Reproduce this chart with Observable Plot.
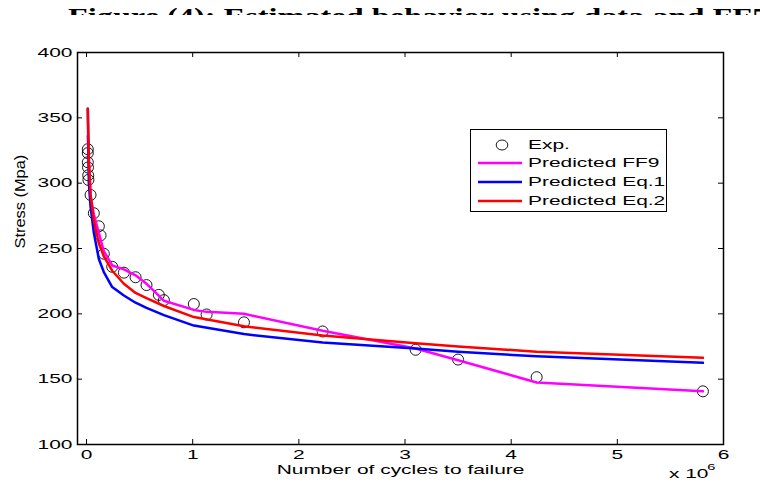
<!DOCTYPE html>
<html>
<head>
<meta charset="utf-8">
<script src="https://cdn.jsdelivr.net/npm/d3@7"></script>
<script src="https://cdn.jsdelivr.net/npm/@observablehq/plot@0.6"></script>
<style>
  html, body { margin: 0; padding: 0; background: white; }
  #wrap { position: relative; width: 760px; height: 493px; overflow: hidden; }
  #chart { position: absolute; left: 0; top: 0; }
  #title { position: absolute; left: 68px; top: 8px; height: 7px; width: 692px; overflow: hidden; }
  #title span { display: inline-block; white-space: nowrap; font-family: "Liberation Serif", "Times New Roman", serif; font-weight: bold; font-size: 24px; line-height: 24px; margin-top: -4px; transform-origin: left top; }
  #legend { position: absolute; left: 470px; top: 129px; width: 197px; height: 83px; border: 1px solid black; background: white; box-sizing: border-box; font-family: "Liberation Sans", Arial, sans-serif; font-size: 13.5px; }
  .row { position: absolute; left: 0; height: 18px; width: 100%; }
  .row svg { position: absolute; left: 6px; top: 0; }
  .row .lab { position: absolute; left: 57px; top: 0; line-height: 18px; white-space: nowrap; transform: scaleX(1.55); transform-origin: left center; }
</style>
</head>
<body>
<div id="wrap">
  <div id="chart"></div>
  <div id="title"><span id="titleText"></span></div>
  <div id="legend"></div>
</div>
<script>
// ---- data (x in units of 10^6 cycles, stress in MPa) ----
const titleText = "Figure (4): Estimated behavior using data and FF5";
const xLabel = "Number of cycles to failure";
const yLabel = "Stress (Mpa)";
const xExponent = "6";
const xTicks = [0, 1, 2, 3, 4, 5, 6];
const yTicks = [100, 150, 200, 250, 300, 350, 400];
const seriesNames = ["Exp.", "Predicted FF9", "Predicted Eq.1", "Predicted Eq.2"];
const seriesColors = ["black", "#ff00ff", "#0000ff", "#ff0000"];

const expN = [0.012, 0.012, 0.012, 0.014, 0.016, 0.018, 0.038, 0.069, 0.116, 0.132, 0.163, 0.242, 0.352, 0.462, 0.565, 0.681, 0.729, 1.011, 1.131, 1.483, 2.224, 3.10, 3.50, 4.24, 5.806];
const expS = [326, 323, 316, 312, 306, 302.5, 291, 277, 267, 260, 246, 236, 231.5, 228, 222, 214.5, 210.5, 207.5, 199.5, 193.5, 186.5, 172.5, 165, 151.5, 140.7];

const ff9N = [0.012, 0.038, 0.069, 0.116, 0.132, 0.163, 0.242, 0.352, 0.462, 0.565, 0.681, 0.729, 1.011, 1.131, 1.483, 2.224, 3.10, 3.50, 4.24, 5.806];
const ff9S = [336, 290, 276, 262, 257, 248, 237, 234, 229.5, 223, 214, 210, 203, 201.5, 200, 187, 173.5, 164.5, 147.5, 140.7];

const eq1N = [0.012, 0.022, 0.038, 0.069, 0.116, 0.163, 0.242, 0.352, 0.462, 0.565, 0.729, 1.011, 1.483, 2.224, 3.10, 3.50, 4.24, 5.806];
const eq1S = [357, 300, 282, 262, 242, 232, 220.5, 214, 208.5, 204.5, 199, 191, 184.5, 178, 173.5, 171, 167.5, 162.5];

const eq2N = [0.012, 0.022, 0.038, 0.069, 0.116, 0.163, 0.242, 0.352, 0.462, 0.565, 0.729, 1.011, 1.483, 2.224, 3.10, 3.50, 4.24, 5.806];
const eq2S = [357, 316, 291, 271, 254, 244, 233, 223, 216, 212, 206, 197.5, 190.5, 183.5, 177.5, 175, 171, 166.3];

// ---- build ----
const toRows = (N, S) => N.map((n, i) => ({n, s: S[i]}));
const exp = toRows(expN, expS);
const ff9 = toRows(ff9N, ff9S);
const eq1 = toRows(eq1N, eq1S);
const eq2 = toRows(eq2N, eq2S);

const W = 760, H = 493, mL = 77, mR = 37, mT = 52, mB = 49;
const pW = W - mL - mR, pH = H - mT - mB;
const SX = 1.55;

const svg = Plot.plot({
  width: W, height: H,
  marginLeft: mL, marginRight: mR, marginTop: mT, marginBottom: mB,
  style: {fontFamily: "'Liberation Sans', Arial, sans-serif", fontSize: "13.5px", color: "black", background: "white"},
  x: {domain: [-0.085, 6]},
  y: {domain: [100, 400]},
  marks: [
    Plot.ruleX(xTicks, {x: d => d, insetTop: pH - 5, stroke: "black"}),
    Plot.ruleX(xTicks, {x: d => d, insetBottom: pH - 5, stroke: "black"}),
    Plot.ruleY(yTicks, {y: d => d, insetRight: pW - 5, stroke: "black"}),
    Plot.ruleY(yTicks, {y: d => d, insetLeft: pW - 5, stroke: "black"}),
    Plot.axisX({ticks: xTicks, tickFormat: d => String(d), tickSize: 0, tickPadding: 5, label: null, fontSize: 13.5}),
    Plot.axisY({ticks: yTicks, tickFormat: d => String(d), tickSize: 0, tickPadding: 5, label: null, fontSize: 13.5}),
    Plot.dot(exp, {x: "n", y: "s", r: 5.5, stroke: seriesColors[0], strokeWidth: 0.9, fill: "none"}),
    Plot.line(ff9, {x: "n", y: "s", stroke: seriesColors[1], strokeWidth: 2.5}),
    Plot.line(eq1, {x: "n", y: "s", stroke: seriesColors[2], strokeWidth: 2.5}),
    Plot.line(eq2, {x: "n", y: "s", stroke: seriesColors[3], strokeWidth: 2.5}),
    Plot.frame({stroke: "black", strokeWidth: 1.5}),
    Plot.text([xLabel], {text: d => d, frameAnchor: "bottom", dy: 29, fontSize: 13.5}),
    Plot.text(["x 10"], {text: d => d, frameAnchor: "bottom-right", dx: -15, dy: 33, textAnchor: "end", fontSize: 13.5}),
    Plot.text([xExponent], {text: d => d, frameAnchor: "bottom-right", dx: -8, dy: 25, fontSize: 9.5}),
    Plot.text([yLabel], {text: d => d, frameAnchor: "left", dx: -57, rotate: -90, fontSize: 14})
  ]
});
document.getElementById("chart").append(svg);

// horizontally stretched lettering as in the reference
svg.querySelectorAll("text").forEach(t => {
  const w = t.getComputedTextLength();
  if (!(w > 0)) return;
  const f = t.textContent === yLabel ? 1.17 : SX;
  t.setAttribute("textLength", (w * f).toFixed(2));
  t.setAttribute("lengthAdjust", "spacingAndGlyphs");
});

// title (clipped at the top edge, as in the reference)
const tt = document.getElementById("titleText");
tt.textContent = titleText;
const tw = tt.getBoundingClientRect().width;
tt.style.transform = "scaleX(" + (700 / tw).toFixed(3) + ")";

// legend
const legend = document.getElementById("legend");
const rowTops = [6, 24, 43, 62];
seriesNames.forEach((name, i) => {
  const row = document.createElement("div");
  row.className = "row";
  row.style.top = rowTops[i] + "px";
  const ns = "http://www.w3.org/2000/svg";
  const sw = document.createElementNS(ns, "svg");
  sw.setAttribute("width", 46); sw.setAttribute("height", 18);
  if (i === 0) {
    const c = document.createElementNS(ns, "ellipse");
    c.setAttribute("cx", 25); c.setAttribute("cy", 9); c.setAttribute("rx", 5.8); c.setAttribute("ry", 5);
    c.setAttribute("fill", "none"); c.setAttribute("stroke", seriesColors[0]); c.setAttribute("stroke-width", 0.9);
    sw.append(c);
  } else {
    const l = document.createElementNS(ns, "line");
    l.setAttribute("x1", 1); l.setAttribute("x2", 45); l.setAttribute("y1", 9); l.setAttribute("y2", 9);
    l.setAttribute("stroke", seriesColors[i]); l.setAttribute("stroke-width", 2.5);
    sw.append(l);
  }
  row.append(sw);
  const lab = document.createElement("span");
  lab.className = "lab";
  lab.textContent = name;
  row.append(lab);
  legend.append(row);
});
</script>
</body>
</html>
